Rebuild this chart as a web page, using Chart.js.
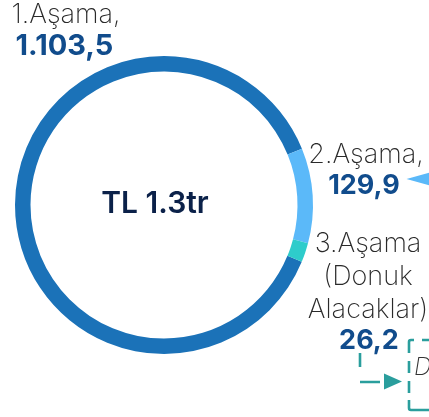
<!DOCTYPE html>
<html>
<head>
<meta charset="utf-8">
<script src="https://cdn.jsdelivr.net/npm/chart.js@4.4.1/dist/chart.umd.min.js"></script>
<style>
  html, body { margin: 0; padding: 0; background: #ffffff; }
  #wrap { position: relative; width: 429px; height: 417px; }
</style>
</head>
<body>
<div id="wrap"><canvas id="c" width="429" height="417"></canvas></div>
<script>
// ---- data ----
const categories = ['1.Aşama,', '2.Aşama,', '3.Aşama (Donuk Alacaklar)'];
const categoryLines = [['1.Aşama,'], ['2.Aşama,'], ['3.Aşama', '(Donuk', 'Alacaklar)']];
const values = [1103.5, 129.9, 26.2];
const valueLabels = ['1.103,5', '129,9', '26,2'];
const centerText = 'TL 1.3tr';
const colors = ['#1B72B8', '#5BB9F9', '#2ECCCB'];

const FONT = 'Inter, "Open Sans", Roboto, sans-serif';

const labelPlugin = {
  id: 'labels',
  afterDraw(chart) {
    const ctx = chart.ctx;
    const arc = chart.getDatasetMeta(0).data[0];
    const cx = arc.x, cy = arc.y;
    ctx.save();
    // center text
    ctx.textAlign = 'center';
    ctx.textBaseline = 'alphabetic';
    ctx.fillStyle = '#0B2149';
    ctx.font = '600 30px ' + FONT;
    ctx.fillText(centerText, cx - 9, cy + 8);

    // [label x offset, first baseline offset, line step, value x offset, value baseline offset, value font size]
    const pos = [
      [-98, -182, 32, -99.5, -150.5, 29],
      [202, -42, 32, 200, -11, 27],
      [204, 47, 33, 205, 143.5, 27]
    ];
    for (let i = 0; i < categoryLines.length; i++) {
      const p = pos[i];
      ctx.fillStyle = '#2a2a2a';
      ctx.font = '200 27px ' + FONT;
      categoryLines[i].forEach((t, k) => ctx.fillText(t, cx + p[0], cy + p[1] + k * p[2]));
      ctx.fillStyle = '#114C8C';
      ctx.font = '700 ' + p[5] + 'px ' + FONT;
      ctx.fillText(valueLabels[i], cx + p[3], cy + p[4]);
    }

    // light blue pointer next to 2.Aşama value
    ctx.fillStyle = colors[1];
    ctx.beginPath();
    ctx.moveTo(406.5, 179);
    ctx.lineTo(432, 172);
    ctx.lineTo(432, 186);
    ctx.closePath();
    ctx.fill();

    // teal dashed arrow
    const teal = '#2A9E9D';
    ctx.strokeStyle = teal;
    ctx.fillStyle = teal;
    ctx.lineWidth = 2.6;
    ctx.lineCap = 'butt';
    ctx.beginPath();
    ctx.moveTo(360, 353); ctx.lineTo(360, 367);
    ctx.moveTo(360, 382); ctx.lineTo(380, 382);
    ctx.stroke();
    ctx.beginPath();
    ctx.moveTo(384, 373.5); ctx.lineTo(402, 381.5); ctx.lineTo(384, 389.5);
    ctx.closePath(); ctx.fill();

    // dashed bracket box
    ctx.beginPath();
    ctx.moveTo(409, 353); ctx.lineTo(409, 342); ctx.arcTo(409, 340, 411, 340, 2); ctx.lineTo(414, 340);
    ctx.moveTo(422, 340); ctx.lineTo(432, 340);
    ctx.moveTo(409, 361); ctx.lineTo(409, 373);
    ctx.moveTo(409, 381); ctx.lineTo(409, 393);
    ctx.moveTo(409, 400); ctx.lineTo(409, 408); ctx.arcTo(409, 410, 411, 410, 2); ctx.lineTo(432, 410);
    ctx.stroke();

    // italic D
    ctx.fillStyle = '#333333';
    ctx.textAlign = 'left';
    ctx.font = 'italic 200 24px ' + FONT;
    ctx.fillText('D', 414, 375);
    ctx.restore();
  }
};

new Chart(document.getElementById('c'), {
  type: 'doughnut',
  data: {
    labels: categories,
    datasets: [{
      data: values,
      backgroundColor: colors,
      borderWidth: 0
    }]
  },
  options: {
    responsive: false,
    animation: false,
    devicePixelRatio: 1,
    rotation: 112.4,
    cutout: '89.6%',
    layout: { padding: { left: 15, right: 116, top: 56, bottom: 63 } },
    plugins: {
      legend: { display: false },
      tooltip: { enabled: false }
    }
  },
  plugins: [labelPlugin]
});
</script>
</body>
</html>
